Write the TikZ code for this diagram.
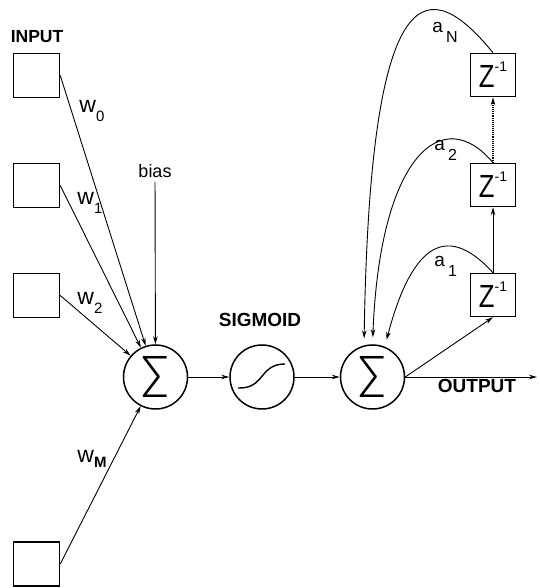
\documentclass[tikz,border=0pt]{standalone}
\usepackage{fontspec}
\setmainfont{Liberation Sans}
% a light face for the big sigma, whichever is around
\IfFontExistsTF{Fira Sans ExtraLight}{\newfontfamily\sumfont{Fira Sans ExtraLight}}{%
  \IfFontExistsTF{FiraSans-Light.otf}{\newfontfamily\sumfont{FiraSans-Light.otf}}{%
    \IfFontExistsTF{Fira Sans Light}{\newfontfamily\sumfont{Fira Sans Light}}{%
      \newfontfamily\sumfont{Liberation Sans}}}}
\usetikzlibrary{arrows.meta}

% weight, tap and delay labels
\newcommand{\wlabel}[1]{{\fontsize{23}{23}\selectfont w}\raisebox{-9pt}{\fontsize{15}{15}\selectfont #1}}
\newcommand{\alabel}[1]{{\fontsize{19}{19}\selectfont a}\kern3pt\raisebox{-10pt}{\fontsize{16}{16}\selectfont #1}}
\newcommand{\zinv}{\scalebox{0.8}[1]{\fontsize{32}{32}\selectfont Z}\raisebox{16pt}{\fontsize{14}{14}\selectfont -1}}
\newcommand{\bigsum}{{\sumfont\fontsize{60}{60}\selectfont Σ}}

\begin{document}
\begin{tikzpicture}[x=1pt,y=1pt,>={Stealth[length=8pt,width=4.5pt]},line width=0.9pt,
    box/.style={draw,line width=1.5pt,minimum width=46pt,minimum height=44pt,inner sep=0pt},
    delay/.style={box,minimum width=45pt,minimum height=43pt},
    unit/.style={circle,draw,line width=1.5pt,minimum size=64pt,inner sep=0pt},
    title/.style={font=\fontsize{19}{19}\selectfont\bfseries,inner sep=0pt,anchor=base},
    node distance=110pt]
  \useasboundingbox (0,0) rectangle (539,588);

  % inputs
  \node[box] (in0) at (36.5,512.5) {};
  \node[box] (in1) [below of=in0] {};
  \node[box] (in2) [below of=in1] {};
  \node[box] (inM) at (36.5,24) {};
  \node[title,font=\fontsize{17.5}{17.5}\selectfont\bfseries] (input) at (37,545) {INPUT};

  % summation, squashing, feedback sum
  \node[unit] (sum1) at (155.5,211) {\bigsum};
  \node[unit] (sig) at (262,211) {};
  \node[unit] (sum2) at (372.5,211) {\bigsum};
  \node[title] (sigmoid) at (260,261) {SIGMOID};
  \node[font=\fontsize{18}{18}\selectfont,anchor=base] (bias) at (155,410) {bias};
  \draw[line width=1.4pt,shift={(sig.center)}] (-24,-11) .. controls (3,-12) and (-3,13) .. (23,13);

  % delay line
  \node[delay] (z1) at (493,293) {\zinv};
  \node[delay] (z2) [above of=z1] {\zinv};
  \node[delay] (zN) [above of=z2] {\zinv};
  \coordinate (out) at (537,211);
  \node[title] (output) at (477,195) {OUTPUT};

  % labels
  \node[anchor=base west,inner sep=0pt] (w0) at (79,475) {\wlabel{0}};
  \node[anchor=base west,inner sep=0pt] (w1) at (77,383) {\wlabel{1}};
  \node[anchor=base west,inner sep=0pt] (w2) at (77,283) {\wlabel{2}};
  \node[anchor=base west,inner sep=0pt] (wM) at (77,125)
    {{\fontsize{23}{23}\selectfont w}\raisebox{-5pt}{\fontsize{15}{15}\selectfont\bfseries M}};
  \node[anchor=base west,inner sep=0pt] (a1) at (434,321) {\alabel{1}};
  \node[anchor=base west,inner sep=0pt] (a2) at (434,437) {\alabel{2}};
  \node[anchor=base west,inner sep=0pt] (aN) at (432,555) {\alabel{N}};

  \draw[->] (in0.east) -- (sum1);
  \draw[->] (in1.east) -- (sum1);
  \draw[->] (in2.east) -- (sum1);
  \draw[->] (inM.east) -- (sum1);
  \draw[->] (bias) -- (sum1);
  \draw[->] (sum1) -- (sig);
  \draw[->] (sig) -- (sum2);
  \draw[->] (sum2.east) -- (out);
  \draw[->] (sum2.east) -- (z1.south);
  \draw[->] (z1) -- (z2);
  \draw[->,densely dotted,line width=1.1pt] (z2) -- (zN);

  % taps back into the sum
  \draw[->,shorten >=7pt] (z1.north) .. controls +(-50,55) and +(25,95) .. (sum2.68);
  \draw[->,shorten >=7pt] (z2.north) .. controls +(-50,60) and +(7.5,190) .. (sum2.90);
  \draw[->,shorten >=7pt] (zN.north) .. controls +(-63,77) and +(6,380) .. (sum2.105);
\end{tikzpicture}
\end{document}
